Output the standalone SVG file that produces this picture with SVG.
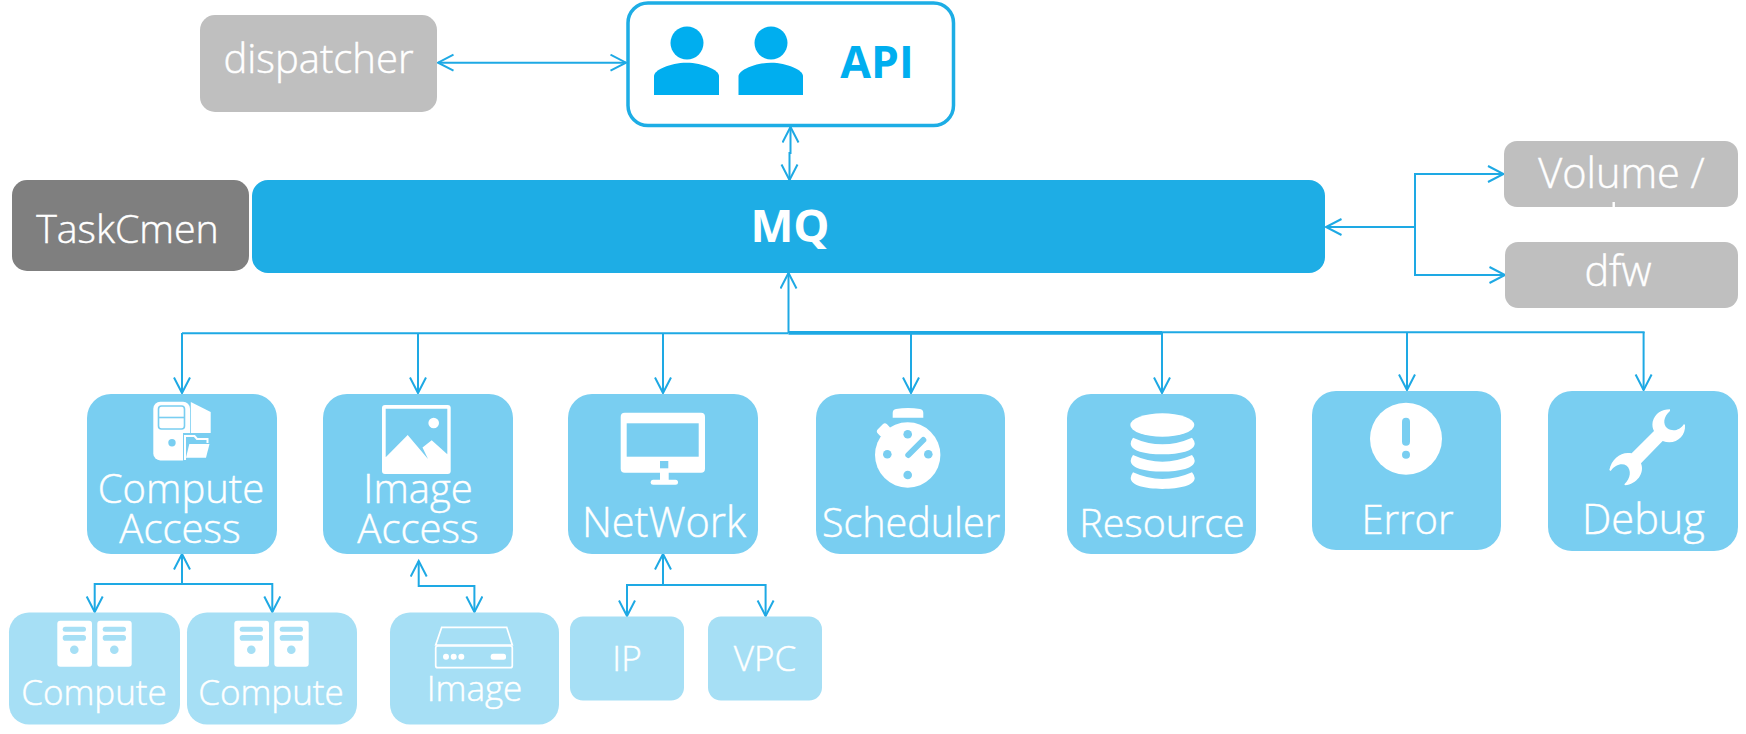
<svg xmlns="http://www.w3.org/2000/svg" xmlns:xlink="http://www.w3.org/1999/xlink" width="1746" height="734" viewBox="0 0 1746 734">
<style>
text{font-family:"Open Sans","Noto Sans","Liberation Sans",sans-serif;font-weight:300;fill:#fff;stroke:#fff;stroke-width:.45;text-anchor:middle}
.b{font-weight:700;stroke:none}
.lg{font-size:40px}
.xl{font-size:41.5px}
.sm{font-size:35px}
.mid{fill:#79cef1}
.lt{fill:#a6dff5}
.gr{fill:#bfbfbf}
.w{fill:#fff}
.c{fill:none;stroke:#1ea9e4;stroke-width:2}
.ic{fill:#79cef1}
.il{fill:#a6dff5}
</style>
<defs>
<marker id="a" markerUnits="userSpaceOnUse" markerWidth="20" markerHeight="20" refX="16.5" refY="9" orient="auto-start-reverse"><path d="M1,1 L16.5,9 L1,17" fill="none" stroke="#1ea9e4" stroke-width="2"/></marker>
<g id="servers">
<rect class="w" x="57.3" y="620.7" width="34.7" height="46" rx="3"/>
<rect class="w" x="97.3" y="620.7" width="34.4" height="46" rx="3"/>
<rect class="il" x="62.7" y="626.7" width="23.3" height="5" rx="2.5"/>
<rect class="il" x="62.7" y="635" width="23.3" height="5.7" rx="2.8"/>
<circle class="il" cx="74.3" cy="649.7" r="4.3"/>
<rect class="il" x="102.7" y="626.7" width="23.3" height="5" rx="2.5"/>
<rect class="il" x="102.7" y="635" width="23.3" height="5.7" rx="2.8"/>
<circle class="il" cx="114.3" cy="649.7" r="4.3"/>
</g>
<path id="band" class="w" d="M1133,437.7Q1162.3,451 1192,437.7Q1194.7,441 1194.7,443.5C1194.7,451 1180,454.3 1162.3,454.3C1145,454.3 1130.7,451 1130.7,443.5Q1130.7,441 1133,437.7Z"/>
</defs>

<g id="connectors">
<path class="c" marker-start="url(#a)" marker-end="url(#a)" d="M438,62.7H626"/>
<path class="c" marker-start="url(#a)" marker-end="url(#a)" d="M790.5,127V153H789.5V180"/>
<path class="c" marker-end="url(#a)" d="M788.5,333V273"/>
<path class="c" d="M182,333.3H788.5"/>
<path class="c" style="stroke-width:3.6" d="M788.5,332.9H1162"/>
<path class="c" d="M1162,332.2H1644.6"/>
<path class="c" marker-end="url(#a)" d="M182,333V393"/>
<path class="c" marker-end="url(#a)" d="M418,333V393"/>
<path class="c" marker-end="url(#a)" d="M663,333V393"/>
<path class="c" marker-end="url(#a)" d="M911,333V393"/>
<path class="c" marker-end="url(#a)" d="M1162,333V393"/>
<path class="c" marker-end="url(#a)" d="M1407,332V390"/>
<path class="c" marker-end="url(#a)" d="M1643.6,332V390"/>
<path class="c" marker-end="url(#a)" d="M1415,227H1326"/>
<path class="c" marker-end="url(#a)" d="M1415,227V174H1503.5"/>
<path class="c" marker-end="url(#a)" d="M1415,227V275H1505"/>
<path class="c" marker-end="url(#a)" d="M182,584V554"/>
<path class="c" marker-end="url(#a)" d="M182,584H94.7V612"/>
<path class="c" marker-end="url(#a)" d="M182,584H272.3V612"/>
<path class="c" marker-start="url(#a)" marker-end="url(#a)" d="M418.7,561V586H474.4V612"/>
<path class="c" marker-end="url(#a)" d="M663,585V554"/>
<path class="c" marker-end="url(#a)" d="M663,585H627V616"/>
<path class="c" marker-end="url(#a)" d="M663,585H765.6V616"/>
</g>

<g id="dispatcher"><rect class="gr" x="200" y="15" width="237" height="97" rx="15"/><text class="lg" x="318.5" y="73">dispatcher</text></g>

<g id="api">
<rect x="628" y="3" width="325.5" height="122.5" rx="20" fill="#fff" stroke="#1dade5" stroke-width="3.5"/>
<ellipse cx="687" cy="43" rx="16.5" ry="16.5" fill="#00aeef"/>
<path d="M654,95V76C654,70 670,62.7 686.5,62.7C703,62.7 719,70 719,76V95Z" fill="#00aeef"/>
<ellipse cx="771" cy="43" rx="16.5" ry="16.5" fill="#00aeef"/>
<path d="M738.5,95V76C738.5,70 755,62.7 771,62.7C787,62.7 803,70 803,76V95Z" fill="#00aeef"/>
<text class="b" x="877" y="78" font-size="44.5" style="fill:#00aeef">API</text>
</g>

<g id="taskcmen"><rect x="12" y="180" width="237" height="91" rx="15" fill="#7f7f7f"/><text font-size="39.3" x="127.5" y="243">TaskCmen</text></g>
<g id="mq"><rect x="252" y="180" width="1073" height="93" rx="16" fill="#1eade5"/><text class="b" x="790" y="242" font-size="45.5">MQ</text></g>

<g id="volume"><rect class="gr" x="1504" y="141" width="234" height="66" rx="13"/><text class="xl" x="1621.5" y="188">Volume /</text><rect class="w" x="1612.5" y="202" width="2.4" height="5"/></g>
<g id="dfw"><rect class="gr" x="1505" y="242" width="233" height="66" rx="13"/><text class="xl" x="1618" y="286">dfw</text></g>

<g id="compute-access">
<rect class="mid" x="87" y="394" width="190" height="160" rx="24"/>
<rect class="w" x="153.3" y="401.7" width="36.7" height="58.7" rx="7"/>
<path class="w" d="M190.8,402L210.7,412V436H190.8Z"/>
<path class="ic" d="M183,433H212V461H183Z"/>
<rect x="158.5" y="406" width="26" height="23" rx="3" fill="none" stroke="#79cef1" stroke-width="1.6"/>
<path d="M158.5,417.5H184.5" fill="none" stroke="#79cef1" stroke-width="1.6"/>
<circle class="ic" cx="172" cy="442.7" r="3.7"/>
<path d="M185,460V436H194.5L197,439H207.5V443" fill="none" stroke="#fff" stroke-width="2"/>
<path class="w" d="M189.3,444H209.5L206,457.7H186Z"/>
<text class="lg" x="181" y="503">Compute</text><text class="lg" x="180" y="543">Access</text>
</g>

<g id="image-access">
<rect class="mid" x="323" y="394" width="190" height="160" rx="24"/>
<rect class="w" x="382" y="405" width="68.7" height="69" rx="3"/>
<path class="ic" d="M385.7,408.7H447.3V454.3L431.7,440.3L422.5,447.5L428,459L407.7,435L385.7,457.3Z"/>
<circle class="w" cx="433.7" cy="423" r="5.3"/>
<text class="lg" x="418" y="503">Image</text><text class="lg" x="418" y="543">Access</text>
</g>

<g id="network">
<rect class="mid" x="568" y="394" width="190" height="160" rx="24"/>
<rect class="w" x="620.7" y="412.7" width="84.3" height="60" rx="4"/>
<rect class="ic" x="626.7" y="423.3" width="72" height="33.4"/>
<rect class="ic" x="660" y="461" width="8.3" height="7.3"/>
<rect class="w" x="660" y="472" width="8.7" height="9"/>
<rect class="w" x="650.7" y="479.7" width="27.3" height="5" rx="2.5"/>
<text class="xl" x="664" y="537">NetWork</text>
</g>

<g id="scheduler">
<rect class="mid" x="816" y="394" width="189" height="160" rx="24"/>
<circle class="w" cx="907.7" cy="455" r="32.7"/>
<path class="w" d="M892.7,417.7V413Q892.7,409.5 896,409Q908,407 920,409Q923.3,409.5 923.3,413V417.7Z"/>
<rect class="w" x="877" y="425.5" width="13" height="9" rx="3" transform="rotate(-45 883.5 430)"/>
<circle class="ic" cx="907.7" cy="434.3" r="4.3"/>
<circle class="ic" cx="887.3" cy="454.3" r="4.3"/>
<circle class="ic" cx="928.3" cy="454.3" r="4.3"/>
<circle class="ic" cx="907.7" cy="475" r="4.3"/>
<path d="M908.3,455L923.3,440" fill="none" stroke="#79cef1" stroke-width="6" stroke-linecap="round"/>
<text font-size="39.5" x="911" y="537">Scheduler</text>
</g>

<g id="resource">
<rect class="mid" x="1067" y="394" width="189" height="160" rx="24"/>
<ellipse class="w" cx="1162.3" cy="425" rx="32" ry="11.7"/>
<use xlink:href="#band" href="#band"/>
<use xlink:href="#band" href="#band" y="17.3"/>
<use xlink:href="#band" href="#band" y="34.6"/>
<text font-size="39.4" x="1162" y="537">Resource</text>
</g>

<g id="error">
<rect class="mid" x="1312" y="391" width="189" height="159" rx="24"/>
<circle class="w" cx="1406" cy="438.7" r="36"/>
<rect class="ic" x="1402" y="417.7" width="8" height="28" rx="4"/>
<circle class="ic" cx="1406" cy="454.7" r="4"/>
<text class="lg" x="1407.5" y="534">Error</text>
</g>

<g id="debug">
<rect class="mid" x="1548" y="391" width="190" height="160" rx="24"/>
<path class="w" transform="translate(1580 395) scale(.3333)" d="M270,43C245,43 225,55 218,80C216,92 218,100 222,108L155,175C125,168 95,190 88,225L92,228C105,210 125,203 140,212C155,225 152,250 133,268L135,271C170,268 195,235 183,205L248,138C285,152 318,125 315,90L312,87C300,105 280,112 262,100C248,88 250,65 270,48Z"/>
<text class="xl" x="1643.5" y="534">Debug</text>
</g>

<g id="compute-1"><rect class="lt" x="9" y="612.5" width="171" height="112" rx="20"/><use xlink:href="#servers" href="#servers"/><text class="sm" x="94" y="705">Compute</text></g>
<g id="compute-2"><rect class="lt" x="187" y="612.5" width="170" height="112" rx="20"/><use xlink:href="#servers" href="#servers" x="177"/><text class="sm" x="271" y="705">Compute</text></g>

<g id="image">
<rect class="lt" x="390" y="612.5" width="169" height="112" rx="20"/>
<path d="M441.7,627.3H506.7L512.3,645H435.7Z" fill="none" stroke="#fff" stroke-width="1.7"/>
<rect x="435.7" y="646" width="76.6" height="21.7" rx="2" fill="none" stroke="#fff" stroke-width="1.7"/>
<circle class="w" cx="446" cy="656.7" r="3"/><circle class="w" cx="453.7" cy="656.7" r="3"/><circle class="w" cx="461.3" cy="656.7" r="3"/>
<rect class="w" x="490.7" y="653.7" width="15.3" height="6" rx="2.5"/>
<text class="sm" x="474.5" y="700.5">Image</text>
</g>

<g id="ip"><rect class="lt" x="570" y="616.5" width="114" height="84" rx="13"/><text class="sm" x="627" y="670.5">IP</text></g>
<g id="vpc"><rect class="lt" x="708" y="616.5" width="114" height="84" rx="13"/><text class="sm" x="765" y="670.5">VPC</text></g>
</svg>
